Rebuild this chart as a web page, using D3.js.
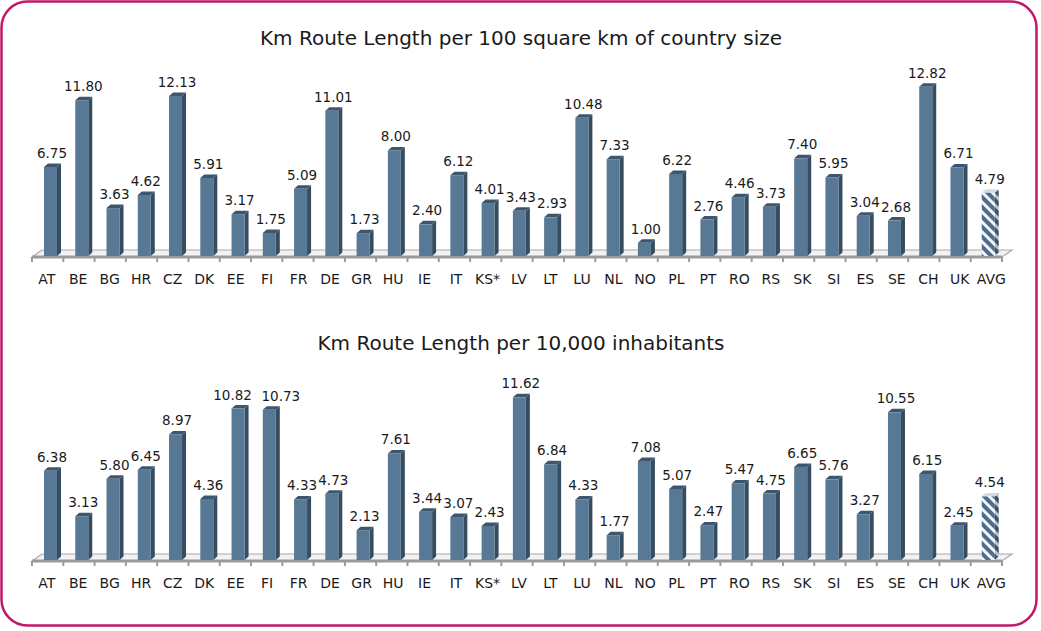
<!DOCTYPE html>
<html>
<head>
<meta charset="utf-8">
<script src="https://cdn.jsdelivr.net/npm/d3@7"></script>
<style>
  body { margin: 0; background: #fff; }
  text { font-family: "DejaVu Sans", sans-serif; fill: #1a1a1a; }
</style>
</head>
<body>
<div id="chart"></div>
<script>
const categories = ["AT","BE","BG","HR","CZ","DK","EE","FI","FR","DE","GR","HU","IE","IT","KS*","LV","LT","LU","NL","NO","PL","PT","RO","RS","SK","SI","ES","SE","CH","UK","AVG"];
const areaValues = [6.75,11.80,3.63,4.62,12.13,5.91,3.17,1.75,5.09,11.01,1.73,8.00,2.40,6.12,4.01,3.43,2.93,10.48,7.33,1.00,6.22,2.76,4.46,3.73,7.40,5.95,3.04,2.68,12.82,6.71,4.79];
const popValues = [6.38,3.13,5.80,6.45,8.97,4.36,10.82,10.73,4.33,4.73,2.13,7.61,3.44,3.07,2.43,11.62,6.84,4.33,1.77,7.08,5.07,2.47,5.47,4.75,6.65,5.76,3.27,10.55,6.15,2.45,4.54];
const titles = ["Km Route Length per 100 square km of country size", "Km Route Length per 10,000 inhabitants"];

const svgWidth = 1041;
const svgHeight = 631;

const svg = d3.select('#chart')
    .append('svg')
    .attr('width', svgWidth)
    .attr('height', svgHeight);

// striped fill for the average bar
const defs = svg.append('defs');
const mkPattern = (id, a, b) => {
    const p = defs.append('pattern')
        .attr('id', id)
        .attr('patternUnits', 'userSpaceOnUse')
        .attr('width', 7).attr('height', 7)
        .attr('patternTransform', 'rotate(-45)');
    p.append('rect').attr('width', 7).attr('height', 7).attr('fill', b);
    p.append('rect').attr('width', 4).attr('height', 7).attr('fill', a);
};
mkPattern('stripeFront', '#4d6d8c', '#f4f6f8');
mkPattern('stripeSide', '#3b5269', '#b9c3cc');

// border
svg.append('rect')
    .attr('x', 1.5).attr('y', 1.5)
    .attr('width', 1035).attr('height', 624)
    .attr('rx', 26).attr('ry', 26)
    .attr('fill', 'none')
    .attr('stroke', '#c2186b')
    .attr('stroke-width', 2.5);

// bars and labels use slightly different spacing (3d perspective)
const xLabel = d3.scaleBand().domain(categories).range([31, 1007]);
const xBar = d3.scaleBand().domain(categories).range([36, 1005]);
const barW = 13, depthX = 4, depthY = 3.5;

const drawPanel = (values, title, titleY, baseY, yMax, yTop, nudge) => {
    const g = svg.append('g');
    const yScale = d3.scaleLinear().domain([0, yMax]).range([baseY, yTop]);

    g.append('text')
        .attr('x', 521).attr('y', titleY)
        .attr('text-anchor', 'middle')
        .style('font-size', '20px')
        .text(title);

    // floor
    const fl = 32, fr = 1002, fy = baseY + 1, fdx = 10, fdy = -7;
    g.append('path')
        .attr('d', `M${fl},${fy} L${fl + fdx},${fy + fdy} L${fr + fdx},${fy + fdy} L${fr},${fy} Z`)
        .attr('fill', '#f2f2f2')
        .attr('stroke', '#a8a8a8')
        .attr('stroke-width', 1.2);
    g.append('line')
        .attr('x1', fl).attr('x2', fr)
        .attr('y1', fy).attr('y2', fy)
        .attr('stroke', '#9a9a9a')
        .attr('stroke-width', 3);
    // ticks
    g.selectAll('.tick')
        .data(categories.concat(['end']))
        .join('line')
        .attr('x1', (d, i) => fl + i * (fr - fl) / categories.length)
        .attr('x2', (d, i) => fl + i * (fr - fl) / categories.length)
        .attr('y1', fy).attr('y2', fy + 5)
        .attr('stroke', '#9a9a9a')
        .attr('stroke-width', 2);

    const data = categories.map((c, i) => ({ cat: c, v: values[i], avg: c === 'AVG' }));

    const bars = g.selectAll('.bar')
        .data(data)
        .join('g')
        .attr('class', 'bar');

    const bx = d => xBar(d.cat) + 8;

    // side face
    bars.append('path')
        .attr('d', d => {
            const x = bx(d) + barW, y0 = baseY, y1 = yScale(d.v);
            return `M${x},${y0} L${x},${y1} L${x + depthX},${y1 - depthY} L${x + depthX},${y0 - depthY} Z`;
        })
        .attr('fill', d => d.avg ? 'url(#stripeSide)' : '#354c61');
    // top face
    bars.append('path')
        .attr('d', d => {
            const x = bx(d), y1 = yScale(d.v);
            return `M${x},${y1} L${x + depthX},${y1 - depthY} L${x + barW + depthX},${y1 - depthY} L${x + barW},${y1} Z`;
        })
        .attr('fill', d => d.avg ? '#d3dae0' : '#3e566d');
    // front face
    bars.append('rect')
        .attr('x', bx)
        .attr('y', d => yScale(d.v))
        .attr('width', barW)
        .attr('height', d => baseY - yScale(d.v))
        .attr('fill', d => d.avg ? 'url(#stripeFront)' : '#587995');

    // values
    bars.append('text')
        .attr('x', d => bx(d) + 8 + (nudge[d.cat] || 0))
        .attr('y', d => yScale(d.v) - 9)
        .attr('text-anchor', 'middle')
        .style('font-size', '13.5px')
        .text(d => d.v.toFixed(2));

    // category labels
    g.selectAll('.cat')
        .data(categories)
        .join('text')
        .attr('class', 'cat')
        .attr('x', d => xLabel(d) + xLabel.bandwidth() / 2)
        .attr('y', baseY + 28)
        .attr('text-anchor', 'middle')
        .style('font-size', '14px')
        .text(d => d);
};

drawPanel(areaValues, titles[0], 45, 256, 14, 256 - 14 * 13.2, {});
// the two EE / FI labels were pulled apart in the original
drawPanel(popValues, titles[1], 350, 560, 12, 560 - 12 * 14.0, { EE: -7, FI: 10 });
</script>
</body>
</html>
